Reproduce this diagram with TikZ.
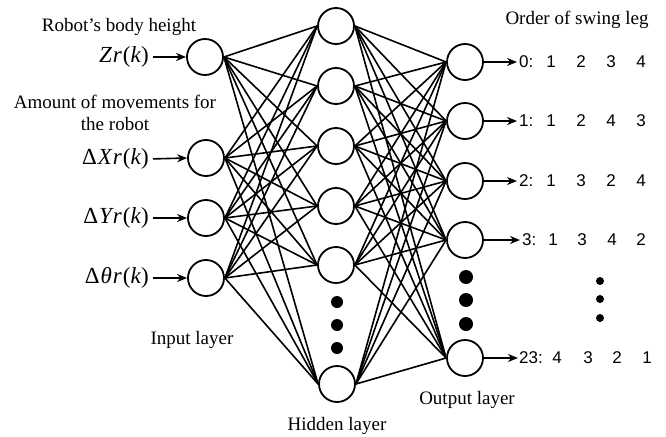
\documentclass[tikz,border=0pt]{standalone}
\usepackage{fontspec}
\setmainfont{Liberation Serif}
\newfontfamily\numfont{Liberation Sans}
\usetikzlibrary{arrows.meta}
\begin{document}
\begin{tikzpicture}[x=1pt,y=-1pt,
  neuron/.style={circle,draw,line width=1.8pt,minimum size=36pt,inner sep=0pt},
  conn/.style={line width=1.6pt},
  arr/.style={line width=1.6pt,-{Stealth[length=10pt,width=8pt]}},
  lbl/.style={font=\fontsize{19}{21}\selectfont,inner sep=0pt},
  mlbl/.style={font=\fontsize{23}{25}\selectfont,anchor=east,inner sep=0pt},
  outlbl/.style={font=\numfont\fontsize{17}{19}\selectfont,inner sep=0pt},
  bigdot/.style={circle,fill,inner sep=0pt,minimum size=14pt},
  middot/.style={circle,fill,inner sep=0pt,minimum size=12pt},
  smalldot/.style={circle,fill,inner sep=0pt,minimum size=8pt}
]
\useasboundingbox (0,0) rectangle (666,436);
% input layer
\node[neuron] (i1) at (205,57) {};
\node[neuron] (i2) at (206,158) {};
\node[neuron] (i3) at (206,218) {};
\node[neuron] (i4) at (206,278) {};
% hidden layer
\node[neuron] (h1) at (336,26) {};
\node[neuron] (h2) at (336,86) {};
\node[neuron] (h3) at (336,146) {};
\node[neuron] (h4) at (336,206) {};
\node[neuron] (h5) at (336,265) {};
\node[neuron] (h6) at (337,384) {};
% output layer
\node[neuron] (o1) at (465,62) {};
\node[neuron] (o2) at (465,121) {};
\node[neuron] (o3) at (465,181) {};
\node[neuron] (o4) at (465,240) {};
\node[neuron] (o5) at (465,358) {};
% connections
\foreach \i in {1,...,4}
  \foreach \h in {1,...,6}
    \draw[conn] (i\i.east) -- (h\h.west);
\foreach \h in {1,...,6}
  \foreach \o in {1,...,5}
    \draw[conn] (h\h.east) -- (o\o.west);
% dots
\node[middot] (hd1) at (337,302) {};
\node[middot] (hd2) at (337,325) {};
\node[middot] (hd3) at (337,348) {};
\node[bigdot] (od1) at (466,277) {};
\node[bigdot] (od2) at (466,300) {};
\node[bigdot] (od3) at (466,324) {};
\node[smalldot] (rd1) at (600,281) {};
\node[smalldot] (rd2) at (600,299) {};
\node[smalldot] (rd3) at (600,318) {};
% input labels
\node[lbl] (t1) at (119,27) {Robot’s body height};
\node[lbl,align=center] (t2) at (115,113) {Amount of movements for\\[1pt]the robot};
\node[mlbl] (l1) at (149,57) {\textit{Z\kern1pt r}\kern1pt(\textit{k})};
\node[mlbl] (l2) at (149,159) {Δ\kern1pt\textit{X\kern1pt r}\kern1pt(\textit{k})};
\node[mlbl] (l3) at (149,218) {Δ\kern1pt\textit{Y\kern1pt r}\kern1pt(\textit{k})};
\node[mlbl] (l4) at (149,278) {Δ\kern1pt\textit{θ\kern1pt r}\kern1pt(\textit{k})};
\draw[arr,shorten <=4pt] (l1.east) -- (i1.west);
\draw[arr,shorten <=4pt] (l2.east) -- (i2.west);
\draw[arr,shorten <=4pt] (l3.east) -- (i3.west);
\draw[arr,shorten <=4pt] (l4.east) -- (i4.west);
% layer labels
\node[lbl] (inl) at (192,340) {Input layer};
\node[lbl] (hil) at (337,426) {Hidden layer};
\node[lbl] (oul) at (467,400) {Output layer};
\node[lbl] (ord) at (577,20) {Order of swing leg};
% output labels
\node[outlbl,anchor=west] (k0) at (519,62) {0:};
\node[outlbl] at (551,62) {1};
\node[outlbl] at (581,62) {2};
\node[outlbl] at (611,62) {3};
\node[outlbl] at (641,62) {4};
\node[outlbl,anchor=west] (k1) at (519,121) {1:};
\node[outlbl] at (551,121) {1};
\node[outlbl] at (581,121) {2};
\node[outlbl] at (611,121) {4};
\node[outlbl] at (641,121) {3};
\node[outlbl,anchor=west] (k2) at (519,181) {2:};
\node[outlbl] at (551,181) {1};
\node[outlbl] at (581,181) {3};
\node[outlbl] at (611,181) {2};
\node[outlbl] at (641,181) {4};
\node[outlbl,anchor=west] (k3) at (522,240) {3:};
\node[outlbl] at (553,240) {1};
\node[outlbl] at (582,240) {3};
\node[outlbl] at (612,240) {4};
\node[outlbl] at (641,240) {2};
\node[outlbl,anchor=west] (k23) at (519,358) {23:};
\node[outlbl] at (557,358) {4};
\node[outlbl] at (588,358) {3};
\node[outlbl] at (617,358) {2};
\node[outlbl] at (647,358) {1};
\draw[arr,shorten >=2pt] (o1.east) -- (k0.west);
\draw[arr,shorten >=2pt] (o2.east) -- (k1.west);
\draw[arr,shorten >=2pt] (o3.east) -- (k2.west);
\draw[arr,shorten >=2pt] (o4.east) -- (k3.west);
\draw[arr,shorten >=1pt] (o5.east) -- (k23.west);
\end{tikzpicture}
\end{document}
